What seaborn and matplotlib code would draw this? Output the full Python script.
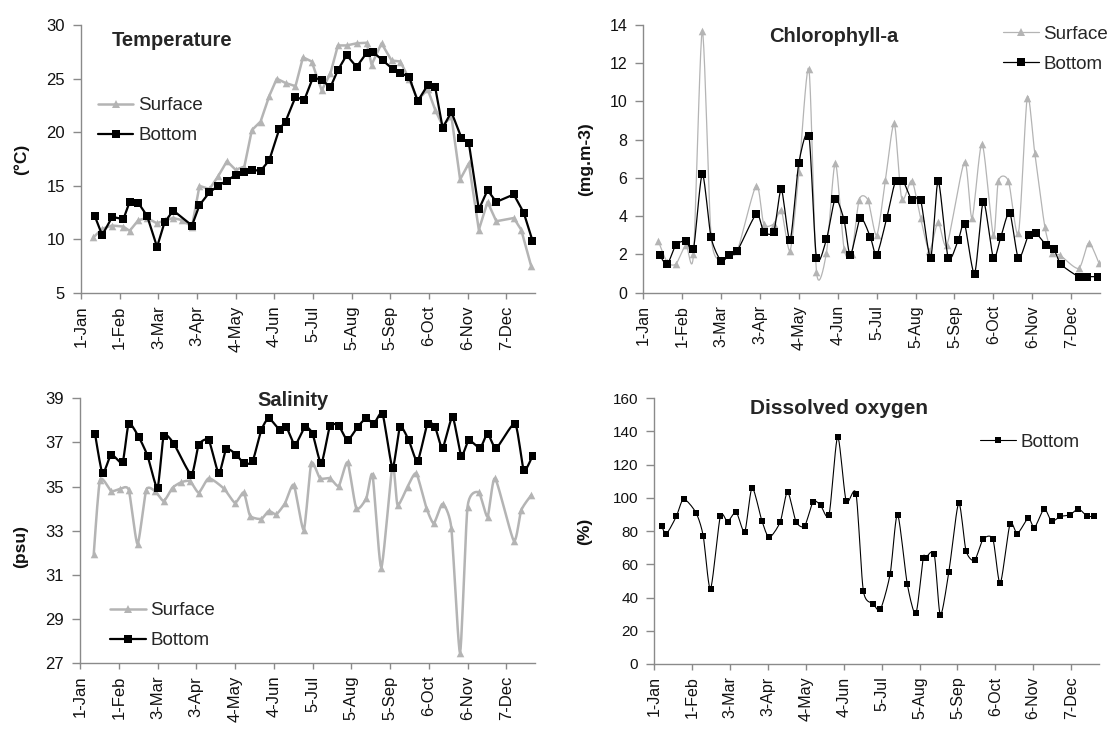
import numpy as np
import matplotlib
matplotlib.use("Agg")
import matplotlib.pyplot as plt
from matplotlib.lines import Line2D
import seaborn as sns

# ---------------- data (day of year, value) ----------------
tick_days = [0, 31, 62, 93, 124, 155, 186, 217, 248, 279, 310, 341]
tick_labels = ["1-Jan", "1-Feb", "3-Mar", "3-Apr", "4-May", "4-Jun",
               "5-Jul", "5-Aug", "5-Sep", "6-Oct", "6-Nov", "7-Dec"]

temp_bot_day = [11, 17, 25, 34, 39, 46, 53, 61, 67, 74, 89, 95, 103, 110, 117, 124, 131,
                137, 144, 151, 159, 164, 172, 179, 186, 193, 200, 206, 213, 221, 229, 234,
                242, 250, 256, 263, 270, 278, 284, 290, 297, 305, 311, 319, 326, 333, 347,
                355, 362]
temp_bot = [12.2, 10.4, 12.1, 11.9, 13.5, 13.4, 12.2, 9.3, 11.6, 12.7, 11.3, 13.2, 14.4,
            15.0, 15.5, 16.0, 16.3, 16.5, 16.4, 17.4, 20.3, 21.0, 23.3, 23.0, 25.1, 24.9,
            24.2, 25.8, 27.2, 26.1, 27.4, 27.5, 26.7, 25.9, 25.5, 25.2, 22.9, 24.4, 24.2,
            20.4, 21.9, 19.5, 19.0, 12.8, 14.6, 13.5, 14.2, 12.5, 9.9]

temp_surf_day = [10, 17, 25, 34, 39, 46, 53, 61, 67, 74, 81, 89, 95, 103, 110, 117, 124,
                 131, 137, 144, 151, 157, 164, 172, 178, 185, 193, 200, 206, 213, 221, 229,
                 233, 241, 249, 256, 263, 270, 278, 284, 290, 297, 304, 311, 319, 326, 333,
                 347, 353, 361]
temp_surf = [10.2, 11.0, 11.3, 11.2, 10.8, 11.8, 12.0, 11.5, 11.8, 12.0, 11.8, 11.2, 15.0,
             14.7, 15.9, 17.3, 16.5, 16.8, 20.2, 21.0, 23.4, 25.0, 24.6, 24.3, 27.0, 26.6,
             23.9, 25.5, 28.1, 28.1, 28.3, 28.35, 26.3, 28.3, 26.7, 26.6, 25.0, 23.0, 24.0,
             22.1, 20.6, 21.5, 15.6, 17.1, 10.9, 13.5, 11.7, 12.0, 10.9, 7.5]

chl_bot_day = [13, 19, 26, 34, 40, 47, 54, 62, 68, 75, 90, 96, 104, 110, 117, 124, 132,
               138, 146, 153, 160, 165, 173, 181, 186, 194, 201, 207, 214, 221, 229, 235,
               243, 251, 256, 264, 271, 279, 285, 292, 299, 307, 313, 321, 327, 333, 347,
               354, 362]
chl_bot = [1.97, 1.48, 2.5, 2.7, 2.3, 6.2, 2.9, 1.66, 1.95, 2.2, 4.1, 3.2, 3.2, 5.4, 2.75,
           6.8, 8.2, 1.83, 2.8, 4.9, 3.8, 1.97, 3.9, 2.9, 1.97, 3.9, 5.84, 5.84, 4.85, 4.85,
           1.83, 5.84, 1.83, 2.75, 3.6, 1.0, 4.76, 1.83, 2.93, 4.18, 1.8, 3.0, 3.1, 2.5,
           2.3, 1.48, 0.84, 0.84, 0.84]

chl_surf_day = [12, 19, 26, 34, 40, 47, 54, 62, 68, 75, 90, 96, 104, 110, 117, 124, 132,
                138, 146, 153, 160, 166, 172, 179, 186, 193, 200, 206, 214, 221, 228, 235,
                242, 256, 262, 270, 279, 283, 291, 299, 306, 312, 320, 326, 332, 347, 355,
                363]
chl_surf = [2.7, 1.6, 1.5, 2.5, 2.0, 13.7, 3.0, 1.7, 2.0, 2.2, 5.6, 3.6, 3.6, 4.3, 2.2,
            6.3, 11.7, 1.1, 2.1, 6.8, 2.3, 2.0, 4.85, 4.85, 3.0, 5.9, 8.85, 4.9, 5.86, 3.9,
            2.2, 3.7, 2.5, 6.85, 3.9, 7.8, 3.0, 5.84, 5.84, 3.1, 10.2, 7.3, 3.45, 2.05, 1.97,
            1.27, 2.6, 1.57]

sal_bot_day = [12, 18, 25, 34, 39, 47, 54, 62, 67, 75, 89, 95, 103, 111, 117, 125, 131,
               138, 145, 151, 160, 165, 172, 180, 186, 193, 200, 207, 214, 222, 229, 235,
               242, 250, 256, 263, 270, 278, 284, 290, 298, 305, 311, 320, 326, 333, 348,
               355, 362]
sal_bot = [37.4, 35.6, 36.45, 36.1, 37.85, 37.25, 36.4, 34.95, 37.3, 36.95, 35.55, 36.9,
           37.1, 35.6, 36.7, 36.45, 36.05, 36.15, 37.55, 38.1, 37.55, 37.7, 36.9, 37.7,
           37.4, 36.05, 37.75, 37.75, 37.1, 37.7, 38.1, 37.85, 38.3, 35.85, 37.7, 37.1,
           36.15, 37.85, 37.7, 36.75, 38.15, 36.4, 37.1, 36.75, 37.4, 36.75, 37.85, 35.75,
           36.4]

sal_surf_day = [11, 16, 25, 32, 39, 46, 53, 60, 67, 74, 81, 88, 95, 103, 115, 124, 131,
                136, 145, 151, 157, 164, 171, 179, 185, 192, 200, 207, 214, 221, 229, 234,
                241, 250, 254, 262, 269, 277, 283, 290, 297, 304, 310, 319, 326, 332, 347,
                353, 361]
sal_surf = [31.95, 35.3, 34.8, 34.9, 34.85, 32.4, 34.85, 34.8, 34.35, 34.95, 35.2, 35.25,
            34.73, 35.38, 34.92, 34.27, 34.74, 33.69, 33.54, 33.9, 33.75, 34.25, 35.08,
            33.04, 36.06, 35.38, 35.38, 35.03, 36.1, 34.02, 34.47, 35.53, 31.33, 35.98,
            34.17, 35.0, 35.6, 34.05, 33.34, 34.22, 33.14, 27.48, 34.09, 34.74, 33.64,
            35.38, 32.55, 33.94, 34.62]

do_bot_day = [6, 10, 18, 24, 34, 40, 46, 54, 60, 67, 74, 80, 88, 94, 103, 109, 116, 123,
              130, 136, 143, 150, 157, 165, 171, 179, 185, 193, 199, 207, 214, 220, 222,
              229, 234, 241, 249, 255, 262, 269, 277, 283, 291, 297, 306, 311, 319, 325,
              332, 340, 347, 354, 360]
do_bot = [83, 78.5, 88.8, 99.2, 91.2, 77.3, 45.2, 88.8, 85.7, 91.4, 79.7, 106, 86.3, 76.3,
          85.5, 103.6, 85.7, 83.1, 97.8, 95.6, 90, 136.7, 98, 102.6, 44.2, 36.3, 32.9,
          54.4, 90, 48, 30.5, 63.7, 64, 66, 29.5, 55.6, 96.8, 68.3, 62.4, 75.1, 75.1, 48.6,
          84.3, 78.5, 87.8, 82.1, 93.4, 85.9, 88.8, 89.8, 93.4, 89, 89]

SURF = "#b4b4b4"
BOT = "#000000"
AXC = "#8a8a8a"

sns.set_theme(style="white")
plt.rcParams["font.family"] = ["Liberation Sans", "DejaVu Sans"]


def smooth(x, y, tension=0.75, n=10):
    """Cardinal (Hermite) curve through the sample points."""
    x = np.asarray(x, float)
    y = np.asarray(y, float)
    px = np.concatenate([[x[0]], x, [x[-1]]])
    py = np.concatenate([[y[0]], y, [y[-1]]])
    t = np.linspace(0, 1, n, endpoint=False)
    h00 = 2 * t ** 3 - 3 * t ** 2 + 1
    h10 = t ** 3 - 2 * t ** 2 + t
    h01 = -2 * t ** 3 + 3 * t ** 2
    h11 = t ** 3 - t ** 2
    xs, ys = [], []
    for i in range(1, len(px) - 2):
        for arr, out in ((px, xs), (py, ys)):
            p0, p1, p2, p3 = arr[i - 1], arr[i], arr[i + 1], arr[i + 2]
            m1 = tension * (p2 - p0) / 2
            m2 = tension * (p3 - p1) / 2
            out.append(h00 * p1 + h10 * m1 + h01 * p2 + h11 * m2)
    xs.append([x[-1]])
    ys.append([y[-1]])
    return np.concatenate(xs), np.concatenate(ys)


def series(ax, days, vals, color, lw, marker, msize, tension, z):
    if tension:
        lx, ly = smooth(days, vals, tension)
    else:
        lx, ly = np.asarray(days, float), np.asarray(vals, float)
    sns.lineplot(x=lx, y=ly, sort=False, estimator=None, color=color, linewidth=lw,
                 ax=ax, zorder=z)
    sns.scatterplot(x=days, y=vals, marker=marker, s=msize, color=color,
                    edgecolor=color, linewidth=0, ax=ax, zorder=z + 0.5)


def style_axis(ax, ylim, ystep, ysize, xsize, ylabel, ylab_x, ylab_y=0.5):
    ax.set_xlim(0, 364)
    ax.set_ylim(*ylim)
    ax.set_yticks(np.arange(ylim[0], ylim[1] + 0.01, ystep))
    ax.set_xticks(tick_days)
    ax.set_xticklabels(tick_labels, rotation=90)
    for s in ("top", "right"):
        ax.spines[s].set_visible(False)
    for s in ("left", "bottom"):
        ax.spines[s].set_color(AXC)
        ax.spines[s].set_linewidth(1.0)
    ax.tick_params(axis="y", direction="out", length=5.5, width=1, color=AXC,
                   pad=6, labelsize=ysize, labelcolor="#111111", left=True)
    ax.tick_params(axis="x", direction="out", length=4, width=1, color=AXC,
                   pad=5, labelsize=xsize, labelcolor="#111111", bottom=True)
    ax.set_xlabel("")
    ax.set_ylabel(ylabel, fontsize=12.5, fontweight="bold", color="#111111")
    ax.yaxis.set_label_coords(ylab_x, ylab_y)
    ax.grid(False)


def legend(ax, labels, styles, x0, y0, fs=13.5):
    handles = [Line2D([], [], color=c, lw=lw, marker=m, markersize=ms,
                      markeredgewidth=0) for c, lw, m, ms in styles]
    ax.legend(handles, labels, loc="upper left", bbox_to_anchor=(x0, y0),
              frameon=False, borderpad=0, borderaxespad=0, handlelength=1.9,
              handletextpad=0.25, labelspacing=0.68, fontsize=fs)


fig = plt.figure(figsize=(11.08, 7.29), dpi=100)
fig.patch.set_facecolor("white")

ax_t = fig.add_axes([0.0731, 0.598, 0.4097, 0.3676])
ax_c = fig.add_axes([0.5806, 0.5985, 0.4122, 0.3672])
ax_s = fig.add_axes([0.0722, 0.0901, 0.4107, 0.3635])
ax_o = fig.add_axes([0.5905, 0.0892, 0.4016, 0.3645])

# Temperature
series(ax_t, temp_surf_day, temp_surf, SURF, 1.8, "^", 30, None, 2)
series(ax_t, temp_bot_day, temp_bot, BOT, 1.6, "s", 30, None, 3)
style_axis(ax_t, (5, 30), 5, 12, 12, "(\u00b0C)", -0.115)
ax_t.text(0.067, 0.944, "Temperature", transform=ax_t.transAxes, ha="left",
          va="center", fontsize=14.5, fontweight="bold")
legend(ax_t, ["Surface", "Bottom"], [(SURF, 1.8, "^", 6), (BOT, 1.6, "s", 6)],
       0.037, 0.731)

# Chlorophyll-a
series(ax_c, chl_surf_day, chl_surf, SURF, 0.9, "^", 30, 0.75, 2)
series(ax_c, chl_bot_day, chl_bot, BOT, 0.9, "s", 34, 0.75, 3)
style_axis(ax_c, (0, 14), 2, 11.5, 11.5, "(mg.m-3)", -0.11)
ax_c.text(0.275, 0.957, "Chlorophyll-a", transform=ax_c.transAxes, ha="left",
          va="center", fontsize=14.5, fontweight="bold")
legend(ax_c, ["Surface", "Bottom"], [(SURF, 0.9, "^", 6), (BOT, 0.9, "s", 6)],
       0.788, 0.998)

# Salinity
series(ax_s, sal_surf_day, sal_surf, SURF, 1.8, "^", 30, 0.6, 2)
series(ax_s, sal_bot_day, sal_bot, BOT, 1.6, "s", 30, 0.6, 3)
style_axis(ax_s, (27, 39), 2, 12, 12, "(psu)", -0.115, 0.44)
ax_s.text(0.389, 0.99, "Salinity", transform=ax_s.transAxes, ha="left",
          va="center", fontsize=14.5, fontweight="bold")
legend(ax_s, ["Surface", "Bottom"], [(SURF, 1.8, "^", 6), (BOT, 1.6, "s", 6)],
       0.066, 0.231)

# Dissolved oxygen
series(ax_o, do_bot_day, do_bot, BOT, 0.8, "s", 22, 0.75, 3)
style_axis(ax_o, (0, 160), 20, 11, 11.5, "(%)", -0.14)
ax_o.text(0.216, 0.963, "Dissolved oxygen", transform=ax_o.transAxes, ha="left",
          va="center", fontsize=15, fontweight="bold")
legend(ax_o, ["Bottom"], [(BOT, 0.8, "s", 5)], 0.732, 0.866)

fig.savefig("out.png", dpi=100, facecolor="white")
